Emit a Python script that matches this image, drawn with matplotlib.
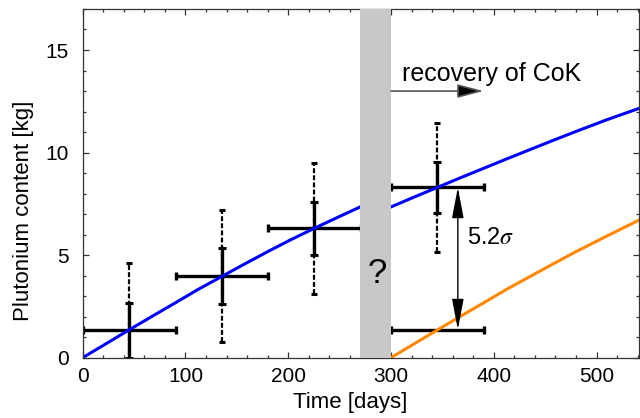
import matplotlib
matplotlib.use("Agg")
import matplotlib.pyplot as plt
from matplotlib.ticker import MultipleLocator

plt.rcParams["font.family"] = ["Liberation Sans", "DejaVu Sans"]
plt.rcParams["mathtext.fontset"] = "stix"

# measured points (day, Pu content) with errors
DAYS = [45.5, 135.5, 225.5, 345]
PU = [1.34, 3.98, 6.3, 8.3]
XERR = [45, 45, 45, 45]
ERR_STAT = [1.35, 1.35, 1.3, 1.25]
ERR_TOT = [3.3, 3.22, 3.2, 3.13]

# expected value without the gap (lower bar)
REF_DAY = [345]
REF_PU = [1.37]
REF_XERR = [45]

# blue curve, before and after the unknown period
BLUE_DAYS_1 = [0, 22, 45, 68, 90, 112, 135, 158, 180, 202, 225, 248, 270]
BLUE_PU_1 = [0, 0.66, 1.35, 2.03, 2.67, 3.32, 3.95, 4.58, 5.17, 5.74, 6.3, 6.84, 7.35]
BLUE_DAYS_2 = [300, 322, 345, 368, 390, 412, 435, 458, 480, 510, 541]
BLUE_PU_2 = [7.35, 7.82, 8.3, 8.78, 9.23, 9.68, 10.14, 10.6, 11.03, 11.6, 12.15]

# orange curve, restart after recovery
ORANGE_DAYS = [300, 322, 345, 368, 390, 412, 435, 458, 480, 510, 541]
ORANGE_PU = [0, 0.66, 1.35, 2.03, 2.67, 3.32, 3.95, 4.58, 5.17, 5.93, 6.7]

GAP_START, GAP_END = 270, 300
ARROW_Y = 13.0
ARROW_END = 390
SIGMA_DAY = 365

fig = plt.figure(figsize=(6.4, 4.18), dpi=100)
ax = fig.add_axes([0.1292, 0.1443, 0.8688, 0.8342])

# error bars
tot = ax.errorbar(DAYS, PU, yerr=ERR_TOT, fmt="none", ecolor="black",
                  elinewidth=1.6, capsize=2.5, capthick=2.2, zorder=2)
tot[2][0].set_linestyle((0, (2.2, 1.0)))
ax.errorbar(DAYS, PU, yerr=ERR_STAT, fmt="none", ecolor="black",
            elinewidth=2.4, capsize=3, capthick=2.2, zorder=2.1)
ax.errorbar(DAYS, PU, xerr=XERR, fmt="none", ecolor="black",
            elinewidth=2.4, capsize=3, capthick=2.4, zorder=2.1)
ax.errorbar(REF_DAY, REF_PU, xerr=REF_XERR, fmt="none", ecolor="black",
            elinewidth=2.4, capsize=3, capthick=2.4, zorder=2.1)

# curves
ax.plot(BLUE_DAYS_1, BLUE_PU_1, color="#0000ff", lw=2.2, zorder=2.5)
ax.plot(BLUE_DAYS_2, BLUE_PU_2, color="#0000ff", lw=2.2, zorder=2.5)
ax.plot(ORANGE_DAYS, ORANGE_PU, color="#ff8800", lw=2.2, zorder=2.5)

# unknown period
ax.axvspan(GAP_START, GAP_END, color="#c8c8c8", lw=0, zorder=3)
ax.text((GAP_START + GAP_END) / 2 + 1.5, 4.08, "?", fontsize=25,
        ha="center", va="center", zorder=4)

# recovery arrow
ax.annotate("", xy=(ARROW_END, ARROW_Y), xytext=(GAP_END, ARROW_Y),
            arrowprops=dict(arrowstyle="-|>,head_length=16,head_width=4.2",
                            mutation_scale=1, fc="black", ec="#555555",
                            lw=1.2, shrinkA=0, shrinkB=0), zorder=4)
ax.text(311, 13.48, "recovery of CoK", fontsize=18, va="baseline")

# 5.2 sigma double arrow
ax.annotate("", xy=(SIGMA_DAY, PU[3]), xytext=(SIGMA_DAY, REF_PU[0]),
            arrowprops=dict(arrowstyle="<|-|>,head_length=19,head_width=3.6",
                            mutation_scale=1, color="black", lw=1.0,
                            shrinkA=0, shrinkB=0), zorder=4)
ax.text(374, 5.52, r"5.2$\sigma$", fontsize=17, va="baseline")

ax.set_xlim(0, 541)
ax.set_ylim(0, 17)
ax.xaxis.set_major_locator(MultipleLocator(100))
ax.xaxis.set_minor_locator(MultipleLocator(20))
ax.yaxis.set_major_locator(MultipleLocator(5))
ax.yaxis.set_minor_locator(MultipleLocator(1))
ax.tick_params(which="both", direction="in", top=True, right=True,
               width=0.9, color="#333333", labelsize=15)
ax.tick_params(which="major", length=4.5)
ax.tick_params(which="minor", length=2.5)
ax.tick_params(axis="x", pad=7)
ax.tick_params(axis="y", pad=10)
for s in ax.spines.values():
    s.set_color("#333333")
    s.set_linewidth(0.9)

ax.set_xlabel("Time [days]", fontsize=16)
ax.set_ylabel("Plutonium content [kg]", fontsize=16)
ax.xaxis.set_label_coords(0.481, -0.098)
ax.yaxis.set_label_coords(-0.0876, 0.42)

fig.savefig("out.png", dpi=100)
plt.close(fig)
